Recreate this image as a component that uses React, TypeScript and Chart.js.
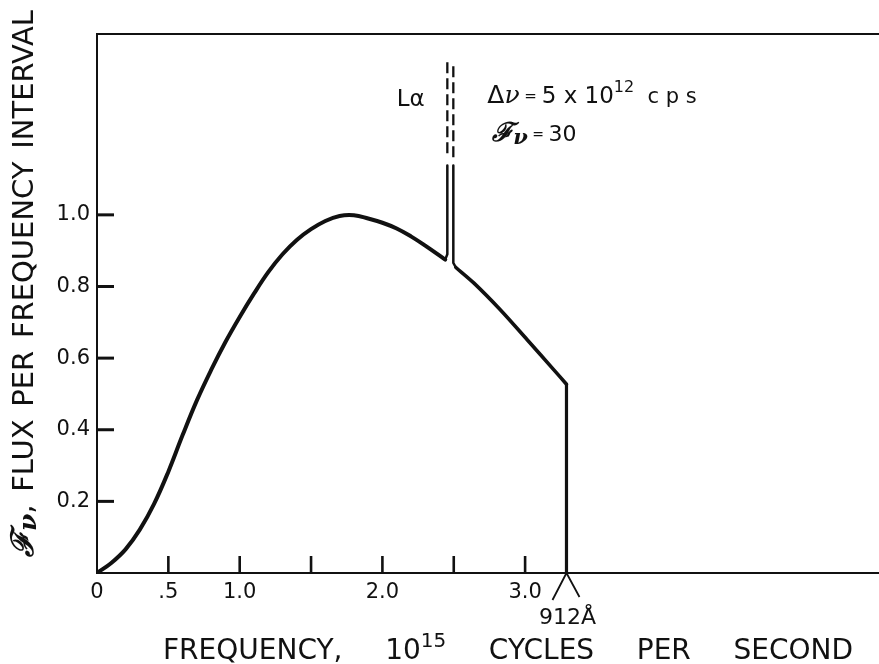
import React, { useEffect, useRef } from 'react';
import { Chart, registerables } from 'chart.js';

Chart.register(...registerables);

// ---- data ----
const curveLeftX = [0, 0.1, 0.2, 0.3, 0.4, 0.5, 0.6, 0.7, 0.8, 0.9, 1.0, 1.1, 1.2, 1.3, 1.4, 1.5, 1.6, 1.7, 1.8, 1.9, 2.0, 2.1, 2.2, 2.3, 2.44];
const curveLeftY = [0, 0.028, 0.066, 0.121, 0.193, 0.283, 0.385, 0.482, 0.567, 0.645, 0.715, 0.78, 0.84, 0.89, 0.93, 0.96, 0.983, 0.997, 0.999, 0.99, 0.978, 0.962, 0.94, 0.914, 0.875];

const spikeLeftSolidX = [2.44, 2.455, 2.455];
const spikeLeftSolidY = [0.875, 0.89, 1.138];
const spikeLeftDashX = [2.455, 2.455];
const spikeLeftDashY = [1.426, 1.16];

const spikeRightDashX = [2.497, 2.497];
const spikeRightDashY = [1.415, 1.16];
const spikeRightSolidX = [2.497, 2.497, 2.515];
const spikeRightSolidY = [1.138, 0.866, 0.853];

const curveRightX = [2.515, 2.64, 2.826, 3.013, 3.2, 3.29];
const curveRightY = [0.853, 0.81, 0.735, 0.652, 0.568, 0.527];

const dropX = [3.29, 3.29];
const dropY = [0.527, 0];

const xLabelValues = [0, 0.5, 1, 2, 3];
const xLabelTexts = ['0', '.5', '1.0', '2.0', '3.0'];
const xMarkValues = [0.5, 1, 1.5, 2, 2.5, 3];
const yLabelValues = [0.2, 0.4, 0.6, 0.8, 1.0];
const yLabelTexts = ['0.2', '0.4', '0.6', '0.8', '1.0'];

const limitX = 3.29;
const limitLabel = '912Å';

// ---- helpers ----
const INK = '#111';
const SANS = '"DejaVu Sans", "Liberation Sans", sans-serif';
const SERIF = '"DejaVu Serif", "Liberation Serif", serif';

type Run = { t: string; f: string; dy?: number };

const pts = (xs: number[], ys: number[]) => xs.map((x, i) => ({ x, y: ys[i] }));

function measureRuns(ctx: CanvasRenderingContext2D, runs: Run[]) {
  let w = 0;
  for (const r of runs) {
    ctx.font = r.f;
    w += ctx.measureText(r.t).width;
  }
  return w;
}

function drawRuns(ctx: CanvasRenderingContext2D, runs: Run[], x: number, y: number) {
  let cx = x;
  for (const r of runs) {
    ctx.font = r.f;
    ctx.fillText(r.t, cx, y + (r.dy || 0));
    cx += ctx.measureText(r.t).width;
  }
  return cx;
}

function drawWords(ctx: CanvasRenderingContext2D, words: Run[][], x0: number, x1: number, y: number) {
  const widths = words.map((w) => measureRuns(ctx, w));
  const total = widths.reduce((a, b) => a + b, 0);
  const gap = (x1 - x0 - total) / (words.length - 1);
  let x = x0;
  words.forEach((w, i) => {
    drawRuns(ctx, w, x, y);
    x += widths[i] + gap;
  });
}

const decorPlugin = {
  id: 'decor',
  beforeDraw(chart: any) {
    const ctx = chart.ctx;
    ctx.save();
    ctx.fillStyle = '#fff';
    ctx.fillRect(0, 0, chart.width, chart.height);
    ctx.restore();
  },
  afterDraw(chart: any) {
    const ctx: CanvasRenderingContext2D = chart.ctx;
    const ca = chart.chartArea;
    const xs = chart.scales.x;
    const ys = chart.scales.y;
    ctx.save();
    ctx.strokeStyle = INK;
    ctx.fillStyle = INK;
    ctx.lineCap = 'butt';

    // top frame line
    ctx.lineWidth = 2;
    ctx.beginPath();
    ctx.moveTo(ca.left - 1, ca.top);
    ctx.lineTo(chart.width, ca.top);
    ctx.stroke();

    // inward tick marks
    ctx.lineWidth = 3;
    for (const v of yLabelValues) {
      const y = ys.getPixelForValue(v);
      ctx.beginPath();
      ctx.moveTo(ca.left, y);
      ctx.lineTo(ca.left + 17, y);
      ctx.stroke();
    }
    ctx.lineWidth = 2.6;
    for (const v of xMarkValues) {
      const x = xs.getPixelForValue(v);
      ctx.beginPath();
      ctx.moveTo(x, ca.bottom);
      ctx.lineTo(x, ca.bottom - 17);
      ctx.stroke();
    }

    // 912 Å marker
    const lx = xs.getPixelForValue(limitX);
    ctx.lineWidth = 1.8;
    ctx.beginPath();
    ctx.moveTo(lx - 14, ca.bottom + 27);
    ctx.lineTo(lx, ca.bottom);
    ctx.lineTo(lx + 13, ca.bottom + 24);
    ctx.stroke();
    ctx.textBaseline = 'alphabetic';
    ctx.textAlign = 'left';
    const lab: Run[] = [{ t: limitLabel, f: `22px ${SANS}` }];
    const lw = measureRuns(ctx, lab);
    drawRuns(ctx, lab, lx + 1 - lw / 2, ca.bottom + 51);

    // Lyman alpha label
    drawRuns(ctx, [
      { t: 'L', f: `23px ${SANS}` },
      { t: 'α', f: `23px ${SANS}` },
    ], xs.getPixelForValue(2.1), ys.getPixelForValue(1.305));

    // Δν = 5 x 10^12 cps
    drawRuns(ctx, [
      { t: 'Δ', f: `25px ${SANS}` },
      { t: 'ν', f: `italic 25px ${SERIF}` },
      { t: ' = ', f: `15px ${SANS}`, dy: -2 },
      { t: '5 x 10', f: `23px ${SANS}` },
      { t: '12', f: `16px ${SANS}`, dy: -11 },
      { t: '  c p s', f: `21px ${SANS}` },
    ], xs.getPixelForValue(2.735), ys.getPixelForValue(1.313));

    // Fν = 30
    drawRuns(ctx, [
      { t: 'ℱ', f: `italic bold 26px ${SERIF}` },
      { t: 'ν', f: `italic bold 21px ${SERIF}`, dy: 3 },
      { t: ' = ', f: `14px ${SANS}`, dy: -2 },
      { t: '30', f: `22px ${SANS}` },
    ], xs.getPixelForValue(2.77), ys.getPixelForValue(1.205));

    // x axis title
    const tf = `28px ${SANS}`;
    drawWords(ctx, [
      [{ t: 'FREQUENCY,', f: tf }],
      [{ t: '10', f: tf }, { t: '15', f: `20px ${SANS}`, dy: -12 }],
      [{ t: 'CYCLES', f: tf }],
      [{ t: 'PER', f: tf }],
      [{ t: 'SECOND', f: tf }],
    ], 163, 853, 659);

    // y axis title (rotated)
    ctx.save();
    ctx.translate(33, 557);
    ctx.rotate(-Math.PI / 2);
    const yf = `29px ${SANS}`;
    drawWords(ctx, [
      [
        { t: 'ℱ', f: `italic bold 31px ${SERIF}` },
        { t: 'ν', f: `italic bold 25px ${SERIF}`, dy: 3 },
        { t: ',', f: yf },
      ],
      [{ t: 'FLUX', f: yf }],
      [{ t: 'PER', f: yf }],
      [{ t: 'FREQUENCY', f: yf }],
      [{ t: 'INTERVAL', f: yf }],
    ], 0, 547, 0);
    ctx.restore();

    ctx.restore();
  },
};

const labelFor = (values: number[], texts: string[]) => (v: any) => {
  const i = values.findIndex((a) => Math.abs(a - Number(v)) < 1e-6);
  return i >= 0 ? texts[i] : '';
};

export default function App() {
  const ref = useRef<HTMLCanvasElement | null>(null);

  useEffect(() => {
    if (!ref.current) return;
    const line = (data: any[], width: number, tension: number) => ({
      data,
      borderColor: INK,
      borderWidth: width,
      pointRadius: 0,
      fill: false,
      showLine: true,
      tension,
      borderCapStyle: 'round',
      borderJoinStyle: 'round',
    });
    const dashed = (data: any[]) => ({
      ...line(data, 2.3, 0),
      borderDash: [11, 5],
      borderCapStyle: 'butt',
    });

    const chart = new Chart(ref.current, {
      type: 'scatter',
      data: {
        datasets: [
          line(pts(curveLeftX, curveLeftY), 4, 0.4),
          line(pts(spikeLeftSolidX, spikeLeftSolidY), 2.5, 0),
          dashed(pts(spikeLeftDashX, spikeLeftDashY)),
          dashed(pts(spikeRightDashX, spikeRightDashY)),
          line(pts(spikeRightSolidX, spikeRightSolidY), 2.5, 0),
          line(pts(curveRightX, curveRightY), 3.6, 0.3),
          line(pts(dropX, dropY), 3.2, 0),
        ] as any,
      },
      options: {
        animation: false,
        responsive: false,
        devicePixelRatio: 1,
        layout: { padding: { top: 34, left: 0, right: 0, bottom: 0 } },
        plugins: {
          legend: { display: false },
          tooltip: { enabled: false },
          title: { display: false },
        },
        scales: {
          x: {
            type: 'linear',
            min: 0,
            max: 5.48,
            afterBuildTicks: (s: any) => {
              s.ticks = xLabelValues.map((v) => ({ value: v }));
            },
            afterFit: (s: any) => {
              s.height = 91;
            },
            ticks: {
              callback: labelFor(xLabelValues, xLabelTexts),
              autoSkip: false,
              maxRotation: 0,
              padding: 7,
              color: INK,
              font: { family: SANS, size: 21 },
            },
            grid: { display: false, drawTicks: false },
            border: { display: true, color: INK, width: 2 },
          },
          y: {
            type: 'linear',
            min: 0,
            max: 1.505,
            afterBuildTicks: (s: any) => {
              s.ticks = yLabelValues.map((v) => ({ value: v }));
            },
            afterFit: (s: any) => {
              s.width = 97;
            },
            ticks: {
              callback: labelFor(yLabelValues, yLabelTexts),
              autoSkip: false,
              padding: 7,
              color: INK,
              font: { family: SANS, size: 21 },
            },
            grid: { display: false, drawTicks: false },
            border: { display: true, color: INK, width: 2 },
          },
        },
      } as any,
      plugins: [decorPlugin],
    });
    return () => chart.destroy();
  }, []);

  return (
    <div style={{ position: 'fixed', left: 0, top: 0, width: 879, height: 664, background: '#fff' }}>
      <canvas ref={ref} width={879} height={664} style={{ display: 'block' }} />
    </div>
  );
}
